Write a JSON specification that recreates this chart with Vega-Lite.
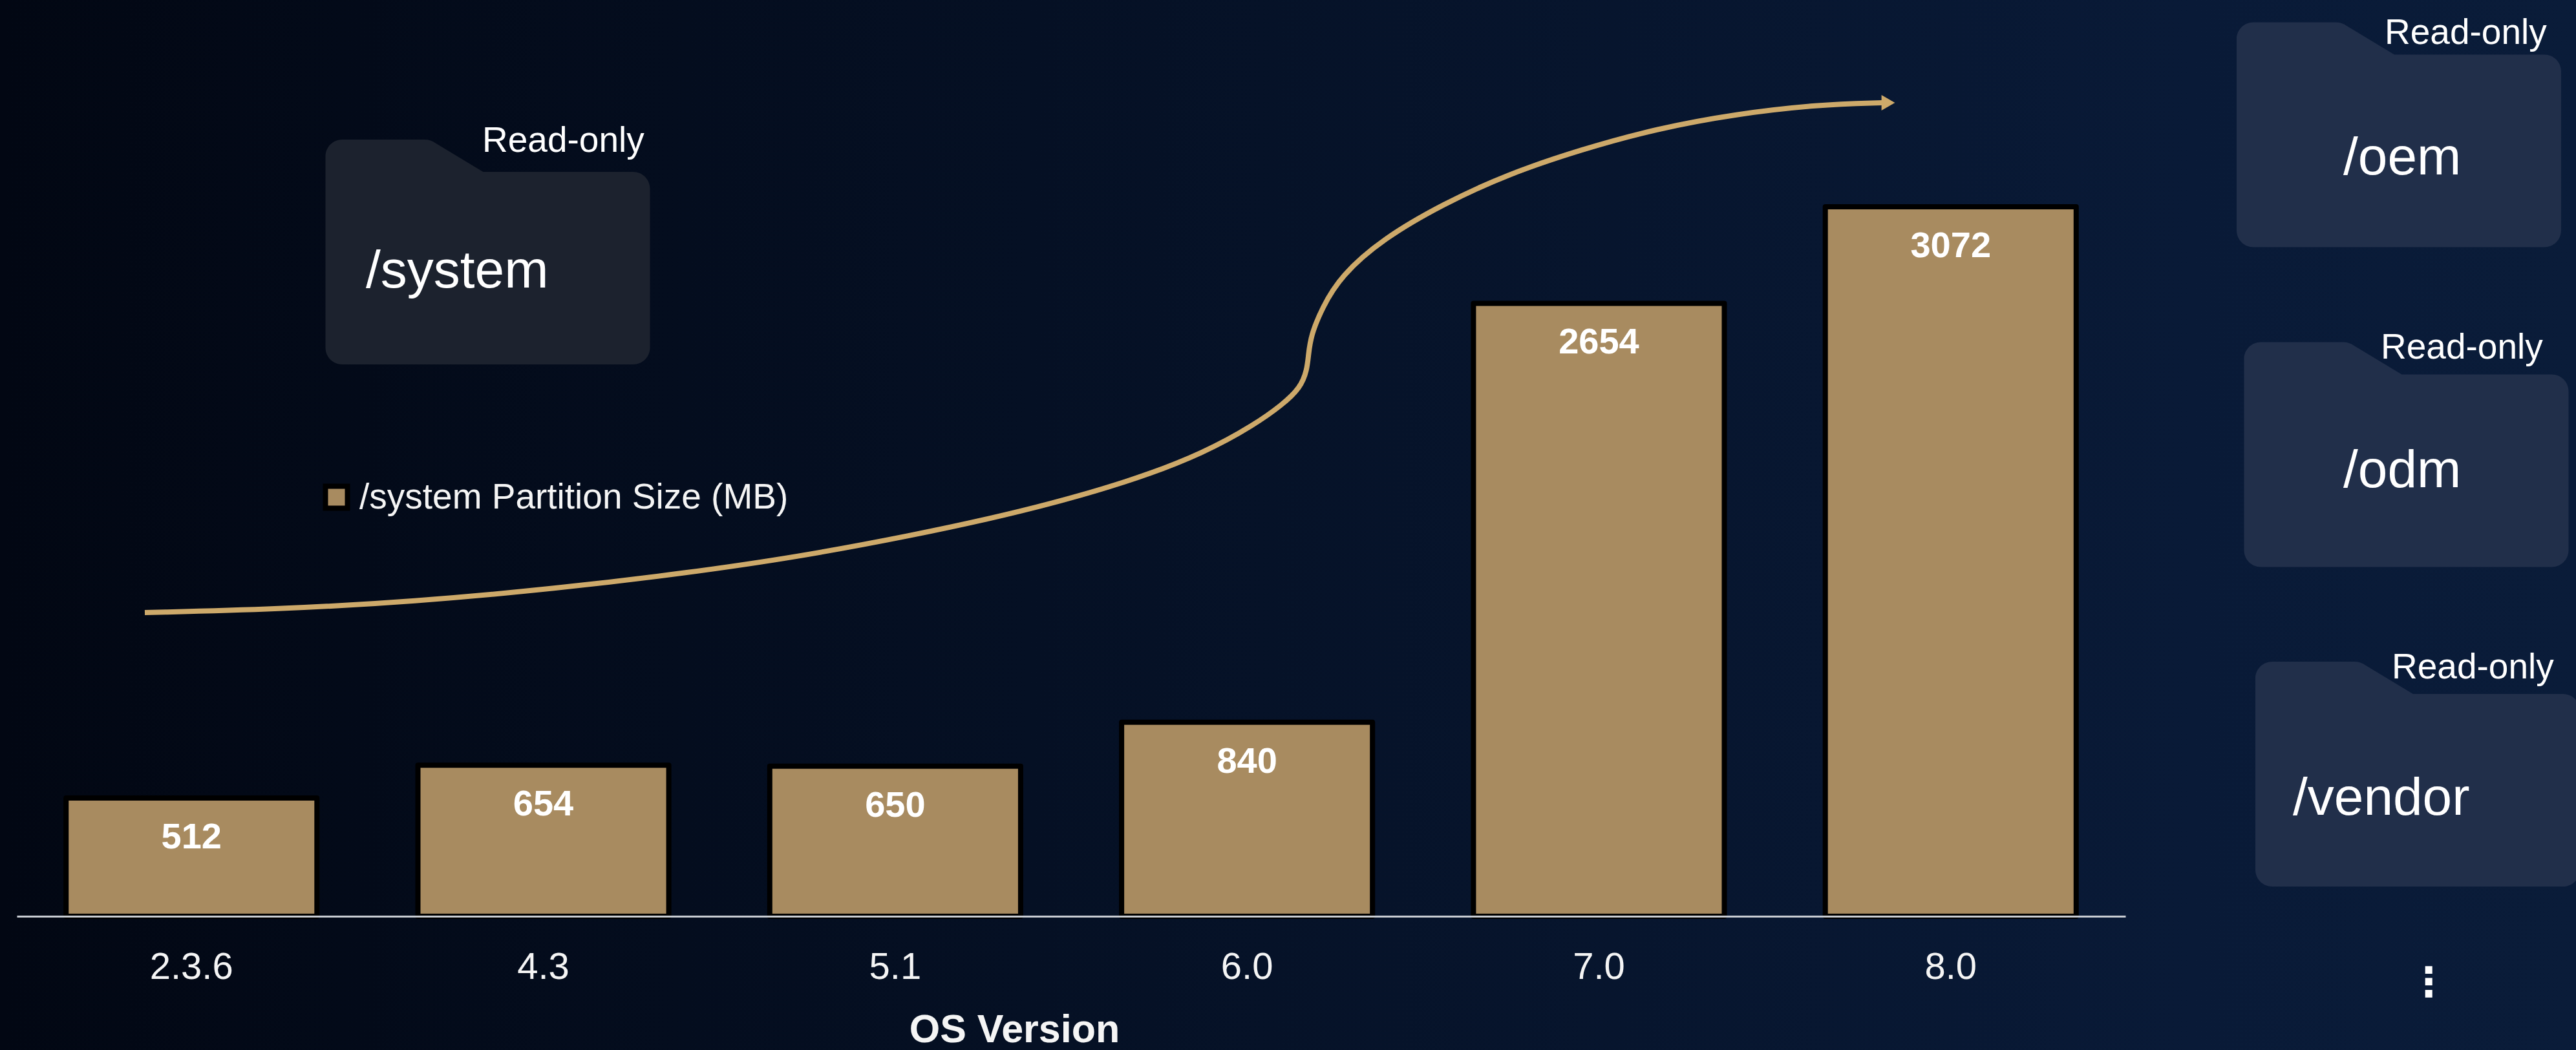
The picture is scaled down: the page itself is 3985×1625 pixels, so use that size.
{
  "$schema": "https://vega.github.io/schema/vega-lite/v6.json",
  "width": 3985,
  "height": 1625,
  "padding": 0,
  "autosize": {"type": "none"},
  "background": "#030a1a",
  "view": {
    "stroke": null,
    "fill": {
      "gradient": "linear",
      "x1": 0, "y1": 0.5, "x2": 1, "y2": 0.5,
      "stops": [
        {"offset": 0, "color": "#020713"},
        {"offset": 0.4, "color": "#051024"},
        {"offset": 0.85, "color": "#091a37"},
        {"offset": 1, "color": "#0a1c39"}
      ]
    }
  },
  "datasets": {
    "partition": [
      {"version": "2.3.6", "size": 512, "series": "/system Partition Size (MB)"},
      {"version": "4.3", "size": 654, "series": "/system Partition Size (MB)"},
      {"version": "5.1", "size": 650, "series": "/system Partition Size (MB)"},
      {"version": "6.0", "size": 840, "series": "/system Partition Size (MB)"},
      {"version": "7.0", "size": 2654, "series": "/system Partition Size (MB)"},
      {"version": "8.0", "size": 3072, "series": "/system Partition Size (MB)"}
    ],
    "trend": [
      {"u": 224, "v": 948}, {"u": 430, "v": 943}, {"u": 640, "v": 931}, {"u": 860, "v": 911},
      {"u": 1061, "v": 887}, {"u": 1233, "v": 862}, {"u": 1405, "v": 830},
      {"u": 1578, "v": 793}, {"u": 1750, "v": 745}, {"u": 1865, "v": 700}, {"u": 1941, "v": 657},
      {"u": 1983, "v": 627}, {"u": 2012, "v": 600}, {"u": 2022, "v": 572}, {"u": 2024, "v": 550},
      {"u": 2028, "v": 519}, {"u": 2045, "v": 477}, {"u": 2074, "v": 427}, {"u": 2140, "v": 369},
      {"u": 2232, "v": 316}, {"u": 2331, "v": 270}, {"u": 2447, "v": 231}, {"u": 2563, "v": 199},
      {"u": 2688, "v": 176}, {"u": 2812, "v": 162}, {"u": 2912, "v": 159}
    ],
    "folders": [
      {"name": "/system", "u": 754.5, "v": 390},
      {"name": "/oem", "u": 3711, "v": 208.5},
      {"name": "/odm", "u": 3722.5, "v": 703.5},
      {"name": "/vendor", "u": 3740, "v": 1198}
    ],
    "folderNames": [
      {"name": "/system", "u": 566, "v": 445},
      {"name": "/oem", "u": 3625, "v": 270},
      {"name": "/odm", "u": 3625, "v": 754},
      {"name": "/vendor", "u": 3547, "v": 1261}
    ],
    "readOnly": [
      {"name": "Read-only", "u": 746, "v": 235},
      {"name": "Read-only", "u": 3689, "v": 68},
      {"name": "Read-only", "u": 3683, "v": 555},
      {"name": "Read-only", "u": 3700, "v": 1050}
    ]
  },
  "layer": [
    {
      "encoding": {
        "x": {"field": "u", "type": "quantitative", "axis": null, "scale": {"domain": [0, 3985], "nice": false, "zero": false}},
        "y": {"field": "v", "type": "quantitative", "axis": null, "scale": {"domain": [1625, 0], "nice": false, "zero": false}}
      },
      "layer": [
        {
          "data": {"name": "folders"},
          "mark": {
            "type": "point",
            "filled": true,
            "opacity": 1,
            "size": 252004,
            "shape": "M-1,-0.5896 C-1,-0.6476 -0.9536,-0.6932 -0.8964,-0.6932 L-0.39,-0.6932 Q-0.35,-0.6932 -0.32,-0.67 L-0.0279,-0.494 L0.8964,-0.494 C0.9536,-0.494 1,-0.448 1,-0.3904 L1,0.5896 C1,0.6476 0.9536,0.6932 0.8964,0.6932 L-0.8964,0.6932 C-0.9536,0.6932 -1,0.6476 -1,0.5896 Z"
          },
          "encoding": {
            "color": {"condition": {"test": "datum.name === '/system'", "value": "#1c222e"}, "value": "#212f4a"}
          }
        },
        {
          "data": {"name": "folderNames"},
          "mark": {"type": "text", "font": "Liberation Sans", "fontSize": 82, "color": "#ffffff", "align": "left", "baseline": "alphabetic"},
          "encoding": {"text": {"field": "name"}}
        },
        {
          "data": {"name": "readOnly"},
          "mark": {"type": "text", "font": "Liberation Sans", "fontSize": 55, "color": "#ffffff", "align": "left", "baseline": "alphabetic"},
          "encoding": {"text": {"field": "name"}}
        },
        {
          "data": {"values": [{"name": "⋮", "u": 3757, "v": 1522}]},
          "mark": {"type": "text", "font": "DejaVu Sans", "fontWeight": "bold", "fontSize": 62, "color": "#ffffff", "align": "center", "baseline": "middle"},
          "encoding": {"text": {"field": "name"}}
        },
        {
          "data": {"name": "trend"},
          "mark": {"type": "line", "interpolate": "basis", "color": "#cda96a", "strokeWidth": 8},
          "encoding": {}
        },
        {
          "data": {"values": [{"u": 2921, "v": 159}]},
          "mark": {"type": "point", "shape": "triangle-right", "filled": true, "opacity": 1, "size": 576, "color": "#cda96a"},
          "encoding": {}
        }
      ]
    },
    {
      "data": {"name": "partition"},
      "encoding": {
        "x": {
          "field": "version",
          "type": "nominal",
          "sort": null,
          "scale": {"range": [26, 3288], "paddingInner": 0.287, "paddingOuter": 0.14},
          "axis": {
            "offset": -207,
            "zindex": 1,
            "ticks": false,
            "grid": false,
            "labelAngle": 0,
            "labelFont": "Liberation Sans",
            "labelFontSize": 58,
            "labelColor": "#f5f5f5",
            "labelPadding": 50,
            "domainColor": "#c9cdd3",
            "domainWidth": 3,
            "title": "OS Version",
            "titleFont": "Liberation Sans",
            "titleFontWeight": "bold",
            "titleFontSize": 61,
            "titleColor": "#f5f5f5",
            "titleAlign": "center",
            "titleBaseline": "alphabetic",
            "titleX": 1569,
            "titleY": 194
          }
        },
        "y": {
          "field": "size",
          "type": "quantitative",
          "axis": null,
          "scale": {"domain": [0, 3072], "range": [1418, 320], "nice": false, "zero": false}
        }
      },
      "layer": [
        {
          "mark": {"type": "bar", "stroke": "#000000", "strokeWidth": 8, "strokeJoin": "round"},
          "encoding": {
            "color": {
              "field": "series",
              "type": "nominal",
              "scale": {"range": ["#a88b60"]},
              "legend": {
                "title": null,
                "orient": "none",
                "legendX": 493,
                "legendY": 742,
                "padding": 0,
                "symbolType": "square",
                "symbolSize": 1156,
                "symbolStrokeColor": "#000000",
                "symbolStrokeWidth": 8,
                "labelFont": "Liberation Sans",
                "labelFontSize": 55,
                "labelColor": "#f5f5f5",
                "labelOffset": 8,
                "labelLimit": 1000
              }
            }
          }
        },
        {
          "mark": {"type": "text", "font": "Liberation Sans", "fontWeight": "bold", "fontSize": 56, "color": "#ffffff", "align": "center", "baseline": "middle", "dy": 61},
          "encoding": {"text": {"field": "size", "type": "quantitative"}}
        }
      ]
    }
  ],
  "resolve": {"scale": {"x": "independent", "y": "independent"}}
}
